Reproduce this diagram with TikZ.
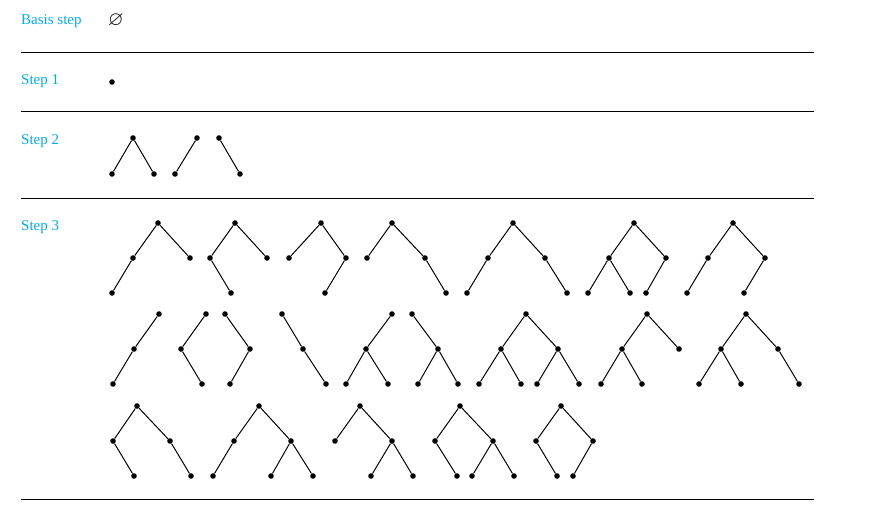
\documentclass[tikz,border=0pt]{standalone}
\usepackage{amssymb}
\usepackage{fontspec}
\setmainfont{Liberation Serif}
\definecolor{labelcyan}{RGB}{0,174,239}
\tikzset{
  dot/.style={circle,fill=black,inner sep=0pt,minimum size=5.6pt},
  edge/.style={line width=1pt,black},
  rule/.style={line width=1pt,black},
  steplabel/.style={anchor=west,inner sep=0pt,text=labelcyan,font=\fontsize{15}{17}\selectfont}
}
\begin{document}
\begin{tikzpicture}[x=1pt,y=-1pt]
\useasboundingbox (0,0) rectangle (872,522);
% labels
\node[steplabel] (lb) at (21,21.5) {Basis step};
\node[steplabel] (l1) at (21,81.5) {Step 1};
\node[steplabel] (l2) at (21,141.5) {Step 2};
\node[steplabel] (l3) at (21,227.5) {Step 3};
\node[inner sep=0pt,font=\fontsize{20}{22}\selectfont] (empty) at (116,20) {$\varnothing$};
% rules
\draw[rule] (21,52) -- (814,52);
\draw[rule] (21,111) -- (814,111);
\draw[rule] (21,198) -- (814,198);
\draw[rule] (21,499) -- (814,499);
% Step 1
\node[dot] (s1) at (112,82) {};
% Step 2
\node[dot] (a0) at (133,138) {};
\node[dot] (a1) at (112,174) {};
\node[dot] (a2) at (154,174) {};
\draw[edge] (a0) -- (a1); \draw[edge] (a0) -- (a2);
\node[dot] (b0) at (197,138) {};
\node[dot] (b1) at (175,174) {};
\draw[edge] (b0) -- (b1);
\node[dot] (c0) at (219,138) {};
\node[dot] (c1) at (240,174) {};
\draw[edge] (c0) -- (c1);
% Step 3 row 1
\node[dot] (A0) at (158,223) {}; \node[dot] (A1) at (133,258) {}; \node[dot] (A2) at (190,258) {}; \node[dot] (A3) at (112,293) {};
\draw[edge] (A0) -- (A1); \draw[edge] (A0) -- (A2); \draw[edge] (A1) -- (A3);
\node[dot] (B0) at (235,223) {}; \node[dot] (B1) at (210,258) {}; \node[dot] (B2) at (267,258) {}; \node[dot] (B3) at (231,293) {};
\draw[edge] (B0) -- (B1); \draw[edge] (B0) -- (B2); \draw[edge] (B1) -- (B3);
\node[dot] (C0) at (321,223) {}; \node[dot] (C1) at (289,258) {}; \node[dot] (C2) at (346,258) {}; \node[dot] (C3) at (325,293) {};
\draw[edge] (C0) -- (C1); \draw[edge] (C0) -- (C2); \draw[edge] (C2) -- (C3);
\node[dot] (D0) at (392,223) {}; \node[dot] (D1) at (367,258) {}; \node[dot] (D2) at (425,258) {}; \node[dot] (D3) at (446,293) {};
\draw[edge] (D0) -- (D1); \draw[edge] (D0) -- (D2); \draw[edge] (D2) -- (D3);
\node[dot] (E0) at (513,223) {}; \node[dot] (E1) at (488,258) {}; \node[dot] (E2) at (545,258) {}; \node[dot] (E3) at (467,293) {}; \node[dot] (E4) at (567,293) {};
\draw[edge] (E0) -- (E1); \draw[edge] (E0) -- (E2); \draw[edge] (E1) -- (E3); \draw[edge] (E2) -- (E4);
\node[dot] (F0) at (634,223) {}; \node[dot] (F1) at (609,258) {}; \node[dot] (F2) at (666,258) {}; \node[dot] (F3) at (588,293) {}; \node[dot] (F4) at (630,293) {}; \node[dot] (F5) at (646,293) {};
\draw[edge] (F0) -- (F1); \draw[edge] (F0) -- (F2); \draw[edge] (F1) -- (F3); \draw[edge] (F1) -- (F4); \draw[edge] (F2) -- (F5);
\node[dot] (G0) at (733,223) {}; \node[dot] (G1) at (708,258) {}; \node[dot] (G2) at (765,258) {}; \node[dot] (G3) at (687,293) {}; \node[dot] (G4) at (744,293) {};
\draw[edge] (G0) -- (G1); \draw[edge] (G0) -- (G2); \draw[edge] (G1) -- (G3); \draw[edge] (G2) -- (G4);
% Step 3 row 2
\node[dot] (H0) at (159,314) {}; \node[dot] (H1) at (134,349) {}; \node[dot] (H2) at (113,384) {};
\draw[edge] (H0) -- (H1); \draw[edge] (H1) -- (H2);
\node[dot] (I0) at (206,314) {}; \node[dot] (I1) at (181,349) {}; \node[dot] (I2) at (202,384) {};
\draw[edge] (I0) -- (I1); \draw[edge] (I1) -- (I2);
\node[dot] (J0) at (225,314) {}; \node[dot] (J1) at (250,349) {}; \node[dot] (J2) at (230,384) {};
\draw[edge] (J0) -- (J1); \draw[edge] (J1) -- (J2);
\node[dot] (K0) at (282,314) {}; \node[dot] (K1) at (303,349) {}; \node[dot] (K2) at (326,384) {};
\draw[edge] (K0) -- (K1); \draw[edge] (K1) -- (K2);
\node[dot] (L0) at (392,314) {}; \node[dot] (L1) at (366,349) {}; \node[dot] (L2) at (346,384) {}; \node[dot] (L3) at (388,384) {};
\draw[edge] (L0) -- (L1); \draw[edge] (L1) -- (L2); \draw[edge] (L1) -- (L3);
\node[dot] (M0) at (412,314) {}; \node[dot] (M1) at (438,349) {}; \node[dot] (M2) at (418,384) {}; \node[dot] (M3) at (458,384) {};
\draw[edge] (M0) -- (M1); \draw[edge] (M1) -- (M2); \draw[edge] (M1) -- (M3);
\node[dot] (N0) at (526,314) {}; \node[dot] (N1) at (501,349) {}; \node[dot] (N2) at (558,349) {};
\node[dot] (N3) at (479,384) {}; \node[dot] (N4) at (521,384) {}; \node[dot] (N5) at (537,384) {}; \node[dot] (N6) at (579,384) {};
\draw[edge] (N0) -- (N1); \draw[edge] (N0) -- (N2); \draw[edge] (N1) -- (N3); \draw[edge] (N1) -- (N4); \draw[edge] (N2) -- (N5); \draw[edge] (N2) -- (N6);
\node[dot] (O0) at (647,314) {}; \node[dot] (O1) at (622,349) {}; \node[dot] (O2) at (679,349) {}; \node[dot] (O3) at (601,384) {}; \node[dot] (O4) at (642,384) {};
\draw[edge] (O0) -- (O1); \draw[edge] (O0) -- (O2); \draw[edge] (O1) -- (O3); \draw[edge] (O1) -- (O4);
\node[dot] (P0) at (746,314) {}; \node[dot] (P1) at (721,349) {}; \node[dot] (P2) at (778,349) {}; \node[dot] (P3) at (699,384) {}; \node[dot] (P4) at (741,384) {}; \node[dot] (P5) at (799,384) {};
\draw[edge] (P0) -- (P1); \draw[edge] (P0) -- (P2); \draw[edge] (P1) -- (P3); \draw[edge] (P1) -- (P4); \draw[edge] (P2) -- (P5);
% Step 3 row 3
\node[dot] (Q0) at (137,406) {}; \node[dot] (Q1) at (113,441) {}; \node[dot] (Q2) at (170,441) {}; \node[dot] (Q3) at (134,476) {}; \node[dot] (Q4) at (191,476) {};
\draw[edge] (Q0) -- (Q1); \draw[edge] (Q0) -- (Q2); \draw[edge] (Q1) -- (Q3); \draw[edge] (Q2) -- (Q4);
\node[dot] (R0) at (259,406) {}; \node[dot] (R1) at (234,441) {}; \node[dot] (R2) at (291,441) {}; \node[dot] (R3) at (213,476) {}; \node[dot] (R4) at (271,476) {}; \node[dot] (R5) at (313,476) {};
\draw[edge] (R0) -- (R1); \draw[edge] (R0) -- (R2); \draw[edge] (R1) -- (R3); \draw[edge] (R2) -- (R4); \draw[edge] (R2) -- (R5);
\node[dot] (S0) at (360,406) {}; \node[dot] (S1) at (335,441) {}; \node[dot] (S2) at (392,441) {}; \node[dot] (S3) at (371,476) {}; \node[dot] (S4) at (413,476) {};
\draw[edge] (S0) -- (S1); \draw[edge] (S0) -- (S2); \draw[edge] (S2) -- (S3); \draw[edge] (S2) -- (S4);
\node[dot] (T0) at (460,406) {}; \node[dot] (T1) at (435,441) {}; \node[dot] (T2) at (493,441) {}; \node[dot] (T3) at (457,476) {}; \node[dot] (T4) at (472,476) {}; \node[dot] (T5) at (514,476) {};
\draw[edge] (T0) -- (T1); \draw[edge] (T0) -- (T2); \draw[edge] (T1) -- (T3); \draw[edge] (T2) -- (T4); \draw[edge] (T2) -- (T5);
\node[dot] (U0) at (561,406) {}; \node[dot] (U1) at (536,441) {}; \node[dot] (U2) at (593,441) {}; \node[dot] (U3) at (557,476) {}; \node[dot] (U4) at (573,476) {};
\draw[edge] (U0) -- (U1); \draw[edge] (U0) -- (U2); \draw[edge] (U1) -- (U3); \draw[edge] (U2) -- (U4);
\end{tikzpicture}
\end{document}
